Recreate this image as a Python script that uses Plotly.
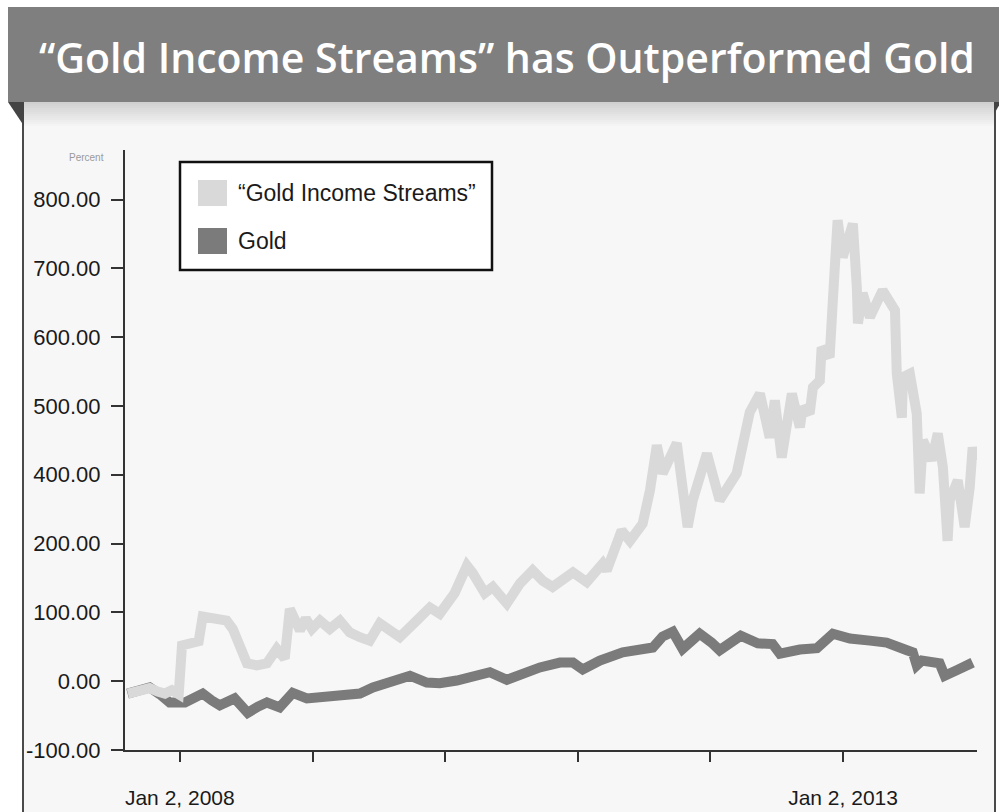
import plotly.graph_objects as go

# ---- data -------------------------------------------------------------
gis_dates = [
    "2007-08-12", "2007-09-14", "2007-10-11", "2007-11-02", "2007-11-22", "2007-12-11", "2007-12-30",
    "2008-01-08", "2008-01-29", "2008-02-23", "2008-03-05", "2008-04-07", "2008-05-10", "2008-05-27",
    "2008-06-15", "2008-07-05", "2008-08-01", "2008-08-29", "2008-09-25", "2008-10-17", "2008-10-31",
    "2008-11-28", "2008-12-14", "2008-12-31", "2009-01-22", "2009-02-18", "2009-03-18", "2009-04-14",
    "2009-05-12", "2009-06-08", "2009-07-06", "2009-08-02", "2009-08-30", "2009-10-10", "2009-11-21",
    "2009-12-18", "2010-01-28", "2010-03-03", "2010-03-19", "2010-04-21", "2010-05-13", "2010-06-21",
    "2010-07-27", "2010-08-31", "2010-09-28", "2010-10-25", "2010-12-20", "2011-01-27", "2011-03-12",
    "2011-03-23", "2011-05-03", "2011-05-26", "2011-06-30", "2011-07-20", "2011-08-08", "2011-08-24",
    "2011-09-13", "2011-10-02", "2011-11-01", "2011-11-15", "2011-12-24", "2012-01-28", "2012-03-15",
    "2012-04-20", "2012-05-18", "2012-06-14", "2012-06-28", "2012-07-17", "2012-08-14", "2012-09-05",
    "2012-09-13", "2012-10-02", "2012-10-11", "2012-10-30", "2012-11-04", "2012-11-26", "2012-12-05",
    "2012-12-18", "2013-01-01", "2013-01-29", "2013-02-09", "2013-02-12", "2013-02-25", "2013-03-17",
    "2013-04-21", "2013-05-25", "2013-05-30", "2013-06-13", "2013-06-16", "2013-07-05", "2013-07-24",
    "2013-08-01", "2013-08-10", "2013-09-03", "2013-09-20", "2013-10-04", "2013-10-17", "2013-10-23",
    "2013-11-14", "2013-12-03", "2013-12-17", "2013-12-25", "2013-12-31",
]
gis_values = [
    -18, -13, -10, -15, -18, -13, -19,
    52, 56, 58, 94, 92, 88, 76,
    47, 26, 23, 26, 47, 33, 105,
    74, 91, 76, 88, 76, 88, 71,
    64, 59, 84, 74, 64, 85, 107,
    98, 128, 168, 157, 128, 137, 113,
    142, 161, 146, 137, 158, 144, 171,
    161, 219, 204, 229, 277, 343, 302,
    321, 346, 224, 263, 331, 263, 302,
    391, 418, 354, 408, 325, 418, 369,
    398, 389, 427, 437, 485, 471, 554,
    670, 616, 665, 572, 520, 564, 529,
    568, 539, 447, 383, 442, 447, 389,
    273, 350, 321, 360, 311, 204, 263,
    292, 224, 282, 340, 321,
]

gold_dates = [
    "2007-08-11", "2007-09-14", "2007-10-11", "2007-11-08", "2007-12-05", "2008-01-16", "2008-03-05",
    "2008-03-30", "2008-04-21", "2008-06-01", "2008-07-07", "2008-08-04", "2008-08-29", "2008-10-03",
    "2008-11-08", "2008-12-17", "2009-01-22", "2009-03-09", "2009-05-12", "2009-06-17", "2009-08-02",
    "2009-09-27", "2009-11-12", "2009-12-18", "2010-02-03", "2010-03-11", "2010-05-05", "2010-06-21",
    "2010-08-09", "2010-09-20", "2010-11-14", "2010-12-20", "2011-01-16", "2011-03-04", "2011-05-06",
    "2011-06-22", "2011-07-28", "2011-08-24", "2011-09-21", "2011-10-18", "2011-12-04", "2012-01-06",
    "2012-01-28", "2012-03-26", "2012-05-12", "2012-06-22", "2012-07-12", "2012-09-05", "2012-10-22",
    "2012-12-05", "2013-01-21", "2013-03-17", "2013-05-02", "2013-06-27", "2013-07-13", "2013-07-24",
    "2013-08-07", "2013-09-25", "2013-10-09", "2013-11-11", "2013-12-25",
]
gold_values = [
    -18, -13, -9, -19, -31, -31, -18,
    -28, -35, -25, -46, -37, -31, -38,
    -17, -25, -24, -21, -18, -9, -2,
    8, -2, -3, 1, 5, 13, 2,
    13, 20, 27, 27, 17, 30, 42,
    45, 49, 65, 72, 47, 69, 56,
    45, 66, 55, 54, 40, 46, 48,
    69, 62, 59, 56, 45, 42, 23,
    30, 26, 8, 16, 27,
]

series_names = ["\u201cGold Income Streams\u201d", "Gold"]
series_colors = ["#d9d9d9", "#7b7b7b"]

y_tickvals = [-100, 0, 100, 200, 300, 400, 500, 600, 700]
y_ticktext = ["-100.00", "0.00", "100.00", "200.00", "400.00",
              "500.00", "600.00", "700.00", "800.00"]
x_tickvals = ["2008-01-02", "2009-01-02", "2010-01-02",
              "2011-01-02", "2012-01-02", "2013-01-02"]
x_ticktext = ["Jan 2, 2008", "", "", "", "", "Jan 2, 2013"]

title_text = "\u201cGold Income Streams\u201d has Outperformed Gold"
unit_text = "Percent"

# ---- page geometry ----------------------------------------------------
W, H = 999, 812
L, R, T, B = 125, 22, 150, 62
TEXT_FONT = "Liberation Sans, Arial, sans-serif"


def px(x):
    return (x - L) / (W - L - R)


def py(y):
    return (H - B - y) / (H - T - B)


fig = go.Figure()

# gold underneath, income streams on top
fig.add_trace(go.Scatter(
    x=gold_dates, y=gold_values, mode="lines", name=series_names[1],
    line=dict(color=series_colors[1], width=10, shape="linear"),
    showlegend=False, hoverinfo="skip",
))
fig.add_trace(go.Scatter(
    x=gis_dates, y=gis_values, mode="lines", name=series_names[0],
    line=dict(color=series_colors[0], width=10, shape="linear"),
    showlegend=False, hoverinfo="skip",
))

shapes = []
# card background and its side borders
shapes.append(dict(type="rect", xref="paper", yref="paper", layer="below",
                   x0=px(23), x1=px(995), y0=py(102), y1=py(H),
                   fillcolor="#f7f7f7", line=dict(width=0)))
# soft shadow under the header band
shadow_steps = 12
for i in range(shadow_steps):
    y0 = 102 + i * 2
    a = 0.30 * (1 - i / shadow_steps)
    shapes.append(dict(type="rect", xref="paper", yref="paper", layer="below",
                       x0=px(23), x1=px(995), y0=py(y0), y1=py(y0 + 2),
                       fillcolor=f"rgba(120,120,120,{a:.3f})", line=dict(width=0)))
shapes.append(dict(type="line", xref="paper", yref="paper", layer="below",
                   x0=px(23), x1=px(23), y0=py(102), y1=py(H),
                   line=dict(color="#4a4a4a", width=2)))
shapes.append(dict(type="line", xref="paper", yref="paper", layer="below",
                   x0=px(995), x1=px(995), y0=py(102), y1=py(H),
                   line=dict(color="#4a4a4a", width=2)))
# header band with folded corners
shapes.append(dict(type="rect", xref="paper", yref="paper", layer="below",
                   x0=px(8), x1=px(W + 2), y0=py(102), y1=py(7),
                   fillcolor="#7f7f7f", line=dict(width=0)))
shapes.append(dict(type="path", xref="paper", yref="paper", layer="below",
                   path=f"M {px(8)} {py(102)} L {px(24)} {py(102)} L {px(24)} {py(126)} Z",
                   fillcolor="#444444", line=dict(width=0)))
shapes.append(dict(type="path", xref="paper", yref="paper", layer="below",
                   path=f"M {px(994)} {py(102)} L {px(W + 2)} {py(102)} L {px(994)} {py(114)} Z",
                   fillcolor="#444444", line=dict(width=0)))

# legend box with square swatches
shapes.append(dict(type="rect", xref="paper", yref="paper", layer="above",
                   x0=px(180), x1=px(492), y0=py(270), y1=py(162),
                   fillcolor="#ffffff", line=dict(color="#111111", width=2.5)))
swatch_rows = [193, 241]
for color, yc in zip(series_colors, swatch_rows):
    shapes.append(dict(type="rect", xref="paper", yref="paper", layer="above",
                       x0=px(198), x1=px(227), y0=py(yc + 13), y1=py(yc - 13),
                       fillcolor=color, line=dict(width=0)))

annotations = []
for name, yc in zip(series_names, swatch_rows):
    annotations.append(dict(xref="paper", yref="paper", x=px(236), y=py(yc),
                            xanchor="left", yanchor="middle", showarrow=False,
                            text=name, font=dict(family=TEXT_FONT, size=23, color="#1a1a1a")))
annotations.append(dict(xref="paper", yref="paper", x=px(507), y=py(57),
                        xanchor="center", yanchor="middle", showarrow=False,
                        text=title_text,
                        font=dict(family="Open Sans", size=41, color="#ffffff", weight=600)))
annotations.append(dict(xref="paper", yref="paper", x=px(106), y=py(158),
                        xanchor="right", yanchor="middle", showarrow=False,
                        text=unit_text, font=dict(family=TEXT_FONT, size=10, color="#9a9a9a")))

fig.update_layout(
    width=W, height=H,
    margin=dict(l=L, r=R, t=T, b=B, pad=0, autoexpand=False),
    paper_bgcolor="#ffffff",
    plot_bgcolor="rgba(0,0,0,0)",
    showlegend=False,
    shapes=shapes,
    annotations=annotations,
    xaxis=dict(
        type="date", range=["2007-08-04", "2014-01-06"],
        tickvals=x_tickvals, ticktext=x_ticktext,
        ticks="outside", ticklen=10, tickwidth=2, tickcolor="#333333",
        showline=True, linecolor="#333333", linewidth=2,
        showgrid=False, zeroline=False, automargin=False,
        tickfont=dict(family=TEXT_FONT, size=21, color="#1a1a1a"),
        ticklabelstandoff=18,
    ),
    yaxis=dict(
        range=[-100, 772],
        tickvals=y_tickvals, ticktext=y_ticktext,
        ticks="outside", ticklen=12, tickwidth=2, tickcolor="#333333",
        showline=True, linecolor="#333333", linewidth=2,
        showgrid=False, zeroline=False, automargin=False,
        tickfont=dict(family=TEXT_FONT, size=22, color="#1a1a1a"),
        ticklabelstandoff=6,
    ),
)

fig.write_html("out.html")
